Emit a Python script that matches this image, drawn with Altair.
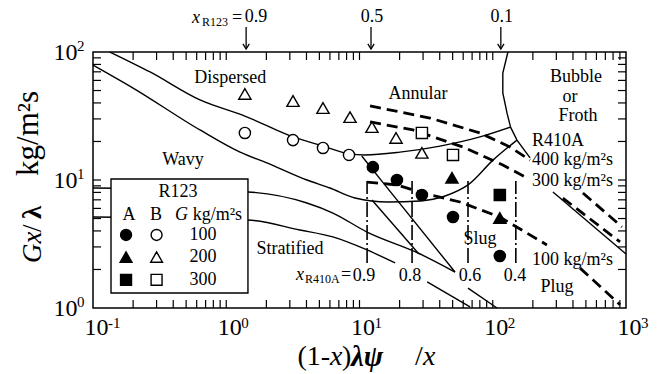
import altair as alt
import pandas as pd

FONT = "Liberation Serif"
XS = alt.Scale(type="log", domain=[0.1, 1000], nice=False)
YS = alt.Scale(type="log", domain=[1, 100], nice=False)
XAX = alt.Axis(values=[0.1, 1, 10, 100, 1000], labelExpr="'10'", ticks=False, domain=False,
               grid=False, title=None, labelFont=FONT, labelFontSize=24, labelPadding=7,
               labelOffset=3, labelColor="black", labelFlush=False)
YAX = alt.Axis(values=[1, 10, 100], labelExpr="'10'", ticks=False, domain=False,
               grid=False, title=None, labelFont=FONT, labelFontSize=24, labelPadding=16,
               labelColor="black", labelFlush=False)

# ---------------- measured points (R123) ----------------
a100_x = [12.6, 19.1, 29.4, 50.3, 113]
a100_y = [12.6, 10.0, 7.64, 5.14, 2.55]
a200_x = [49.4, 113]
a200_y = [10.4, 5.05]
a300_x = [113]
a300_y = [7.64]
b100_x = [1.38, 3.17, 5.32, 8.34]
b100_y = [23.3, 20.5, 17.8, 15.7]
b200_x = [1.38, 3.17, 5.32, 8.49, 12.4, 18.8, 29.4]
b200_y = [47.0, 41.4, 36.5, 31.0, 25.9, 21.3, 16.3]
b300_x = [29.4, 50.3]
b300_y = [23.3, 15.7]

# ---------------- Baker map boundaries (solid) ----------------
solid_curves = [
    ("U", [0.134, 0.268, 0.635, 1.38, 3.17, 5.32, 8.34, 11.0, 20.1, 40.2, 80.2, 136],
          [100, 69.8, 42.2, 31.6, 21.7, 18.4, 16.0, 15.7, 16.5, 18.4, 21.7, 25.9]),
    ("W", [0.1, 0.2, 0.635, 1.27, 2.02, 4.03, 6.01, 9.25, 16.4, 28.4, 43.9, 65.2, 100.5, 152],
          [79.1, 52.3, 24.6, 16.5, 13.6, 10.0, 8.66, 7.23, 6.73, 6.86, 7.50, 9.15, 14.3, 20.5]),
    ("B", [0.1, 1.455, 4.03, 6.32, 11.4, 27.5, 52.1],
          [8.66, 8.06, 6.61, 5.52, 3.92, 2.69, 1.91]),
    ("C", [0.1, 1.455, 3.57, 6.32, 11.4, 18.5],
          [5.14, 4.87, 4.07, 3.59, 2.84, 2.25]),
]
solid_straight = [
    ("Bub", [130, 119, 119, 128, 136], [100, 68.5, 47.9, 33.3, 25.9]),
    ("BS1", [136, 152, 190.6], [25.9, 20.5, 14.9]),
    ("BS2", [283, 1000], [8.06, 2.64]),
    ("C2", [32.2, 67.5], [1.60, 1.02]),
    ("L1", [10.4, 15.5, 52.1], [15.4, 9.15, 1.91]),
    ("L1b", [65.2, 107.6], [1.43, 1.0]),
    ("E", [12.4, 27.5], [6.98, 2.69]),
]
# ---------------- R410A lines (dashed) ----------------
dashed = [
    ("D400", [12.0, 33.8, 80.2, 134.6, 190.6], [37.9, 30.5, 23.3, 18.1, 14.3]),
    ("D400b", [475, 933], [7.91, 4.30]),
    ("D300", [12.0, 25.2, 59.8, 119, 174.6], [28.4, 24.6, 18.1, 13.1, 10.6]),
    ("D300b", [336, 902], [7.23, 3.28]),
    ("D100", [11.4, 19.1, 30.0, 56.8, 113, 255], [9.64, 9.15, 7.91, 6.73, 5.14, 3.11]),
    ("D100b", [452, 902], [2.05, 1.06]),
]
# constant quality x_R410A (dash-dot)
q_x = [11.4, 24.8, 65.2, 149]
q_lo, q_hi = 2.25, 9.8
# top arrows x_R123
arrow_x = [1.41, 12.2, 115]


def ex(field="x"):
    return alt.X(f"{field}:Q", scale=XS, axis=XAX)


def ey(field="y"):
    return alt.Y(f"{field}:Q", scale=YS, axis=YAX)


def line_df(segs):
    rows = []
    for name, xs, ys in segs:
        for i, (x, y) in enumerate(zip(xs, ys)):
            rows.append({"seg": name, "i": i, "x": x, "y": y})
    return pd.DataFrame(rows)


def lines(segs, **mk):
    return alt.Chart(line_df(segs)).mark_line(color="black", **mk).encode(
        x=ex(), y=ey(), detail="seg:N", order="i:Q")


def texts(items, size, **mk):
    df = pd.DataFrame(items, columns=["x", "y", "t"])
    return alt.Chart(df).mark_text(font=FONT, fontSize=size, color="black", **mk).encode(
        x=ex(), y=ey(), text="t:N")


def pts(xs, ys, shape, filled, size):
    df = pd.DataFrame({"x": xs, "y": ys})
    return alt.Chart(df).mark_point(shape=shape, filled=True, size=size,
                                    fill="black" if filled else "white",
                                    stroke="black", strokeWidth=1.4, opacity=1).encode(x=ex(), y=ey())


layers = []
layers.append(lines(solid_curves, strokeWidth=1.4, interpolate="monotone"))
layers.append(lines(solid_straight, strokeWidth=1.4))
layers.append(lines(dashed, strokeWidth=2.8, strokeDash=[11, 6]))
qdf = pd.DataFrame({"x": q_x, "y": [q_lo] * 4, "y2": [q_hi] * 4})
layers.append(alt.Chart(qdf).mark_rule(color="black", strokeWidth=1.6, strokeDash=[15, 3, 2, 3]).encode(
    x=ex(), y=ey(), y2="y2:Q"))

# inward ticks
fx = 10 ** (8 / 133.25)
fy = 10 ** (8 / 128)
xt = [m * 10 ** k for k in range(-1, 3) for m in range(1, 10)][1:]
yt = [m * 10 ** k for k in range(0, 2) for m in range(1, 10)][1:]
tdf = pd.DataFrame({"x": xt + xt, "y": [1] * len(xt) + [100] * len(xt),
                    "y2": [fy] * len(xt) + [100 / fy] * len(xt)})
layers.append(alt.Chart(tdf).mark_rule(color="black", strokeWidth=1.2).encode(x=ex(), y=ey(), y2="y2:Q"))
ydf = pd.DataFrame({"y": yt + yt, "x": [0.1] * len(yt) + [1000] * len(yt),
                    "x2": [0.1 * fx] * len(yt) + [1000 / fx] * len(yt)})
layers.append(alt.Chart(ydf).mark_rule(color="black", strokeWidth=1.2).encode(x=ex(), y=ey(), x2="x2:Q"))

# legend box
ldf = pd.DataFrame({"x": [0.1365], "x2": [1.455], "y": [1.31], "y2": [10.18]})
layers.append(alt.Chart(ldf).mark_rect(fill="white", stroke="black", strokeWidth=1.4).encode(
    x=ex(), x2="x2:Q", y=ey(), y2="y2:Q"))

# data points
layers += [
    pts(a100_x, a100_y, "circle", True, 125),
    pts(a200_x, a200_y, "triangle-up", True, 150),
    pts(a300_x, a300_y, "square", True, 125),
    pts(b100_x, b100_y, "circle", False, 125),
    pts(b200_x, b200_y, "triangle-up", False, 150),
    pts(b300_x, b300_y, "square", False, 125),
    # legend symbols
    pts([0.177], [3.72], "circle", True, 120),
    pts([0.30], [3.72], "circle", False, 120),
    pts([0.177], [2.50], "triangle-up", True, 140),
    pts([0.30], [2.50], "triangle-up", False, 140),
    pts([0.177], [1.66], "square", True, 120),
    pts([0.30], [1.66], "square", False, 120),
]

# region labels
layers.append(texts([
    (1.07, 62.6, "Dispersed"), (0.473, 14.3, "Wavy"), (27.5, 47.0, "Annular"),
    (422, 63.8, "Bubble"), (380, 44.9, "or"), (436, 31.6, "Froth"),
    (80.2, 3.46, "Slug"), (3.01, 2.89, "Stratified"), (303, 1.46, "Plug"),
    (10.8, 1.78, "0.9"), (23.9, 1.78, "0.8"), (67.5, 1.78, "0.6"), (147, 1.78, "0.4"),
    (7.93, 1.80, "="),
    (0.434, 8.06, "R123"), (0.186, 5.33, "A"), (0.297, 5.33, "B"),
    (0.670, 3.72, "100"), (0.670, 2.50, "200"), (0.670, 1.66, "300"),
    (1.204, 184, "="), (1.67, 187.5, "0.9"), (12.4, 187.5, "0.5"), (117, 187.5, "0.1"),
], 18, baseline="middle"))
layers.append(texts([
    (197, 20.2, "R410A"), (197, 14.3, "400 kg/m²s"), (197, 9.82, "300 kg/m²s"),
    (197, 2.37, "100 kg/m²s"), (0.56, 5.33, "kg/m²s"),
], 18, baseline="middle", align="left"))
layers.append(texts([(0.412, 5.33, "G")], 18, baseline="middle", align="left", fontStyle="italic"))
layers.append(texts([(3.57, 1.80, "x"), (0.593, 184, "x")], 18, baseline="middle", fontStyle="italic"))
layers.append(texts([(3.90, 1.69, "R410A"), (0.658, 171, "R123")], 12, baseline="middle", align="left"))

# arrows
adf = pd.DataFrame({"x": arrow_x, "y": [156.7] * 3, "y2": [105.5] * 3})
layers.append(alt.Chart(adf).mark_rule(color="black", strokeWidth=1.3).encode(x=ex(), y=ey(), y2="y2:Q"))
layers.append(alt.Chart(adf).mark_point(shape="M-1,-1.6L0,0L1,-1.6", filled=False, size=40,
                                        stroke="black", strokeWidth=1.3, opacity=1).encode(
    x=ex(), y=alt.Y("y2:Q", scale=YS, axis=YAX)))

# tick exponents
layers.append(texts([(0.1, 1, "-1"), (1, 1, "0"), (10, 1, "1"), (100, 1, "2"), (1000, 1, "3")],
                    15, baseline="middle", align="left", dx=15, dy=15))
layers.append(texts([(0.1, 1, "0"), (0.1, 10, "1"), (0.1, 100, "2")],
                    15, baseline="middle", align="left", dx=-16, dy=-6))

# axis titles
layers.append(texts([(6.01, 0.414, "(1-")], 28, baseline="middle", align="right"))
layers.append(texts([(6.01, 0.414, "x"), (29.97, 0.414, "x")], 28, baseline="middle", align="left",
                    fontStyle="italic"))
layers.append(texts([(7.39, 0.414, ")"), (26.1, 0.414, "/")], 28, baseline="middle", align="left"))
layers.append(texts([(8.63, 0.414, "λψ")], 29, baseline="middle", align="left",
                    fontStyle="italic", fontWeight="bold"))
layers.append(texts([(0.0407, 2.25, "Gx")], 27, baseline="alphabetic", align="left", angle=270,
                    fontStyle="italic"))
layers.append(texts([(0.0407, 3.92, "/")], 27, baseline="alphabetic", align="left", angle=270))
layers.append(texts([(0.0407, 4.96, "λ")], 27, baseline="alphabetic", align="left", angle=270,
                    fontWeight="bold"))
layers.append(texts([(0.0387, 10.75, "kg/m²s")], 31, baseline="alphabetic", align="left", angle=270))

chart = alt.layer(*layers).properties(
    width=533, height=256,
    autosize=alt.AutoSizeParams(type="none"),
    padding={"left": 93, "top": 52, "right": 35, "bottom": 66},
    background="white",
).configure_view(stroke="black", strokeWidth=1.5)

chart.save("out.html", embed_options={"renderer": "svg", "actions": False})
